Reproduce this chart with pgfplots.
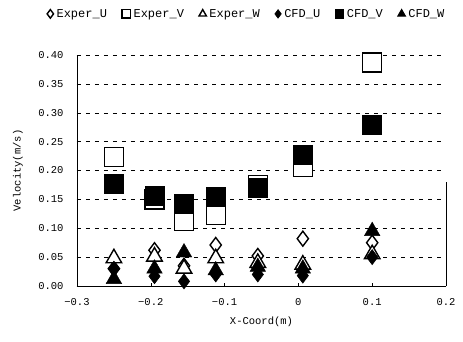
\documentclass[border=0pt]{standalone}
\usepackage{pgfplots}
\pgfplotsset{compat=1.18}
\usepackage{fontspec}
\setmainfont{Liberation Mono}
\begin{document}
\begin{tikzpicture}
\begin{axis}[
  scale only axis,
  width=369pt, height=231pt,
  xmin=-0.3, xmax=0.2, ymin=0, ymax=0.4,
  axis x line*=bottom, axis y line*=left,
  axis line style={black, line width=0.6pt},
  xtick={-0.3,-0.2,-0.1,0,0.1,0.2},
  xticklabels={−0.3,−0.2,−0.1,0,0.1,0.2},
  ytick={0,0.05,0.1,0.15,0.2,0.25,0.3,0.35,0.4},
  yticklabel style={/pgf/number format/fixed,/pgf/number format/fixed zerofill,/pgf/number format/precision=2, xshift=-10pt},
  xticklabel style={yshift=-9pt},
  /pgf/number format/assume math mode=true,
  tick label style={font=\fontsize{10.5}{12}\selectfont},
  tick style={black, thin},
  major tick length=3pt,
  xtick align=inside, ytick align=inside,
  ymajorgrids,
  grid style={black, dashed, line width=0.5pt, dash pattern=on 4pt off 5pt},
  xlabel={X-Coord(m)},
  ylabel={Velocity(m/s)},
  label style={font=\fontsize{10.5}{12}\selectfont},
  xlabel style={at={(axis description cs:0.5,-0.156)}, anchor=center},
  ylabel style={at={(axis description cs:-0.16,0.5)}, anchor=center},
  legend columns=6,
  legend style={draw=none, fill=none, at={(axis description cs:0.46,1.178)}, anchor=center,
    font=\fontsize{12}{13}\selectfont, column sep=1pt,
    /tikz/every even column/.append style={column sep=13pt}},
  legend image post style={mark size=4.3pt, line width=1.1pt},
  legend image code/.code={\draw[mark repeat=2,mark phase=2] plot coordinates {(0cm,0cm) (0.15cm,0cm) (0.3cm,0cm)};},
  legend cell align=left,
  clip=false,
]
% Exper_U open diamond
\addplot[only marks, mark=diamond*, mark options={fill=white, draw=black, line width=1.4pt}, mark size=7.5pt]
 coordinates {(-0.25,0.03) (-0.195,0.062) (-0.155,0.035) (-0.112,0.071) (-0.055,0.052) (0.006,0.082) (0.1,0.075)};
\addlegendentry{Exper\_U}
% Exper_V open square
\addplot[only marks, mark=square*, mark options={fill=white, draw=black, line width=1.4pt}, mark size=9.5pt]
 coordinates {(-0.25,0.223) (-0.195,0.15) (-0.155,0.113) (-0.112,0.123) (-0.055,0.175) (0.006,0.206) (0.1,0.387)};
\addlegendentry{Exper\_V}
% Exper_W open triangle
\addplot[only marks, mark=triangle*, mark options={fill=white, draw=black, line width=1.4pt}, mark size=9pt]
 coordinates {(-0.25,0.048) (-0.195,0.051) (-0.155,0.03) (-0.112,0.048) (-0.055,0.04) (0.006,0.037) (0.1,0.055)};
\addlegendentry{Exper\_W}
% CFD_U filled diamond
\addplot[only marks, mark=diamond*, mark options={fill=black, draw=black, line width=0.6pt}, mark size=7.5pt]
 coordinates {(-0.25,0.03) (-0.195,0.017) (-0.155,0.008) (-0.112,0.02) (-0.055,0.02) (0.006,0.018) (0.1,0.05)};
\addlegendentry{CFD\_U}
% CFD_V filled square
\addplot[only marks, mark=square*, mark options={fill=black, draw=black}, mark size=9.5pt]
 coordinates {(-0.25,0.177) (-0.195,0.156) (-0.155,0.142) (-0.112,0.155) (-0.055,0.171) (0.006,0.228) (0.1,0.28)};
\addlegendentry{CFD\_V}
% CFD_W filled triangle
\addplot[only marks, mark=triangle*, mark options={fill=black, draw=black}, mark size=9pt]
 coordinates {(-0.25,0.012) (-0.195,0.03) (-0.155,0.058) (-0.112,0.027) (-0.055,0.033) (0.006,0.03) (0.1,0.095)};
\addlegendentry{CFD\_W}
\draw[black, line width=0.5pt] (rel axis cs:1,0) -- (rel axis cs:1,0.45);
\end{axis}
\path (current axis.south west) ++(-77pt,-55pt) rectangle ++(463pt,341pt);
\end{tikzpicture}
\end{document}
